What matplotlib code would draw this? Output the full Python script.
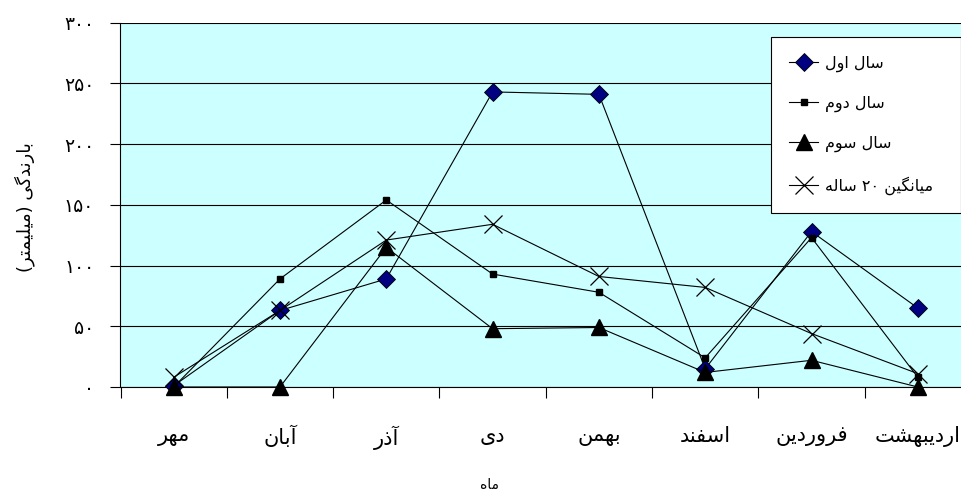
import re
import matplotlib
matplotlib.use("Agg")
import matplotlib.pyplot as plt
from matplotlib.ticker import FixedLocator

# --- data ---
months = ["مهر", "آبان", "آذر", "دی", "بهمن", "اسفند", "فروردین", "اردیبهشت"]
year1 = [1, 63, 89, 243, 241, 15, 128, 65]
year2 = [0, 89, 154, 93, 78, 24, 123, 8]
year3 = [0, 0, 115, 48, 49, 12, 22, 0]
avg20 = [8, 63, 121, 134, 91, 82, 44, 11]
series_names = ["سال اول", "سال دوم", "سال سوم", "میانگین ۲۰ ساله"]
yticks = [0, 50, 100, 150, 200, 250, 300]

# --- tiny persian shaper (matplotlib has no complex text layout) ---
FORMS = {  # isolated, final, initial, medial
    "ا": (0xFE8D, 0xFE8E), "آ": (0xFE81, 0xFE82),
    "د": (0xFEA9, 0xFEAA), "ذ": (0xFEAB, 0xFEAC),
    "ر": (0xFEAD, 0xFEAE), "ز": (0xFEAF, 0xFEB0),
    "و": (0xFEED, 0xFEEE),
    "ب": (0xFE8F, 0xFE90, 0xFE91, 0xFE92), "ت": (0xFE95, 0xFE96, 0xFE97, 0xFE98),
    "س": (0xFEB1, 0xFEB2, 0xFEB3, 0xFEB4), "ش": (0xFEB5, 0xFEB6, 0xFEB7, 0xFEB8),
    "ف": (0xFED1, 0xFED2, 0xFED3, 0xFED4), "ل": (0xFEDD, 0xFEDE, 0xFEDF, 0xFEE0),
    "م": (0xFEE1, 0xFEE2, 0xFEE3, 0xFEE4), "ن": (0xFEE5, 0xFEE6, 0xFEE7, 0xFEE8),
    "ه": (0xFEE9, 0xFEEA, 0xFEEB, 0xFEEC), "ی": (0xFBFC, 0xFBFD, 0xFBFE, 0xFBFF),
    "گ": (0xFB92, 0xFB93, 0xFB94, 0xFB95), "ک": (0xFB8E, 0xFB8F, 0xFB90, 0xFB91),
}
DIGITS = "۰۱۲۳۴۵۶۷۸۹"


def fa_num(n):
    return str(n).translate(str.maketrans("0123456789", DIGITS))


def shape(s):
    out = []
    for i, c in enumerate(s):
        if c not in FORMS:
            out.append(c)
            continue
        f = FORMS[c]
        prev = s[i - 1] if i > 0 else ""
        nxt = s[i + 1] if i + 1 < len(s) else ""
        pj = prev in FORMS and len(FORMS[prev]) == 4
        nj = len(f) == 4 and nxt in FORMS
        if pj and nj:
            out.append(chr(f[3]))
        elif pj:
            out.append(chr(f[1]))
        elif nj:
            out.append(chr(f[2]))
        else:
            out.append(chr(f[0]))
    s = "".join(out)
    toks = re.findall(r"[0-9۰-۹]+|[^0-9۰-۹]+", s)
    mirror = str.maketrans("()", ")(")
    vis = []
    for t in reversed(toks):
        vis.append(t if t[0] in "0123456789" + DIGITS else t[::-1].translate(mirror))
    return "".join(vis)


plt.rcParams["font.family"] = ["DejaVu Sans"]

fig = plt.figure(figsize=(9.62, 4.96), dpi=100)
ax = fig.add_axes([120.5 / 962, 109 / 496, 850.5 / 962, 364.3 / 496])
ax.set_facecolor("#CCFFFF")

x = list(range(1, len(months) + 1))
lw = 0.8
ax.plot(x, year1, color="black", lw=lw, marker="D", markersize=9,
        markerfacecolor="#000080", markeredgecolor="black", markeredgewidth=0.6,
        clip_on=False, zorder=3, label=shape(series_names[0]))
ax.plot(x, year2, color="black", lw=lw, marker="s", markersize=5,
        markerfacecolor="black", markeredgecolor="black",
        clip_on=False, zorder=3, label=shape(series_names[1]))
ax.plot(x, year3, color="black", lw=lw, marker="^", markersize=12,
        markerfacecolor="black", markeredgecolor="black",
        clip_on=False, zorder=3, label=shape(series_names[2]))
ax.plot(x, avg20, color="black", lw=lw, marker="x", markersize=13,
        markeredgecolor="black", markeredgewidth=0.9,
        clip_on=False, zorder=3, label=shape(series_names[3]))

ax.set_xlim(0.5, len(months) + 0.5)
ax.set_ylim(0, 300)
ax.set_yticks(yticks)
ax.set_yticklabels([fa_num(v) for v in yticks], fontsize=13.5)
ax.set_xticks(x)
ax.set_xticklabels([shape(m) for m in months], fontsize=15)
ax.xaxis.set_minor_locator(FixedLocator([i + 0.5 for i in range(len(months) + 1)]))
ax.tick_params(axis="x", which="major", length=0, pad=28)
ax.tick_params(axis="x", which="minor", length=8, width=0.8, direction="out")
ax.tick_params(axis="y", length=7, width=0.8, direction="out", pad=12)

ax.grid(axis="y", color="black", lw=0.8)
ax.set_axisbelow(True)
for side in ["top", "right"]:
    ax.spines[side].set_visible(False)
for side in ["left", "bottom"]:
    ax.spines[side].set_linewidth(0.8)

leg = fig.legend(loc="upper left", mode="expand",
                 bbox_to_anchor=(771 / 962, 1 - 205 / 496, 190 / 962, 168 / 496),
                 borderaxespad=0, fontsize=11.5, frameon=True, fancybox=False,
                 shadow=False, labelspacing=1.5, handlelength=1.8,
                 handletextpad=0.45, borderpad=1.15)
leg.get_frame().set_edgecolor("black")
leg.get_frame().set_linewidth(0.8)
leg.get_frame().set_alpha(1)

fig.text(490 / 962, 1 - 485 / 496, shape("ماه"), fontsize=10, ha="center", va="center")
fig.text(25 / 962, 1 - 207 / 496, shape("بارندگی (میلیمتر)"), fontsize=13,
         rotation=90, ha="center", va="center")

fig.savefig("out.png", dpi=100)
